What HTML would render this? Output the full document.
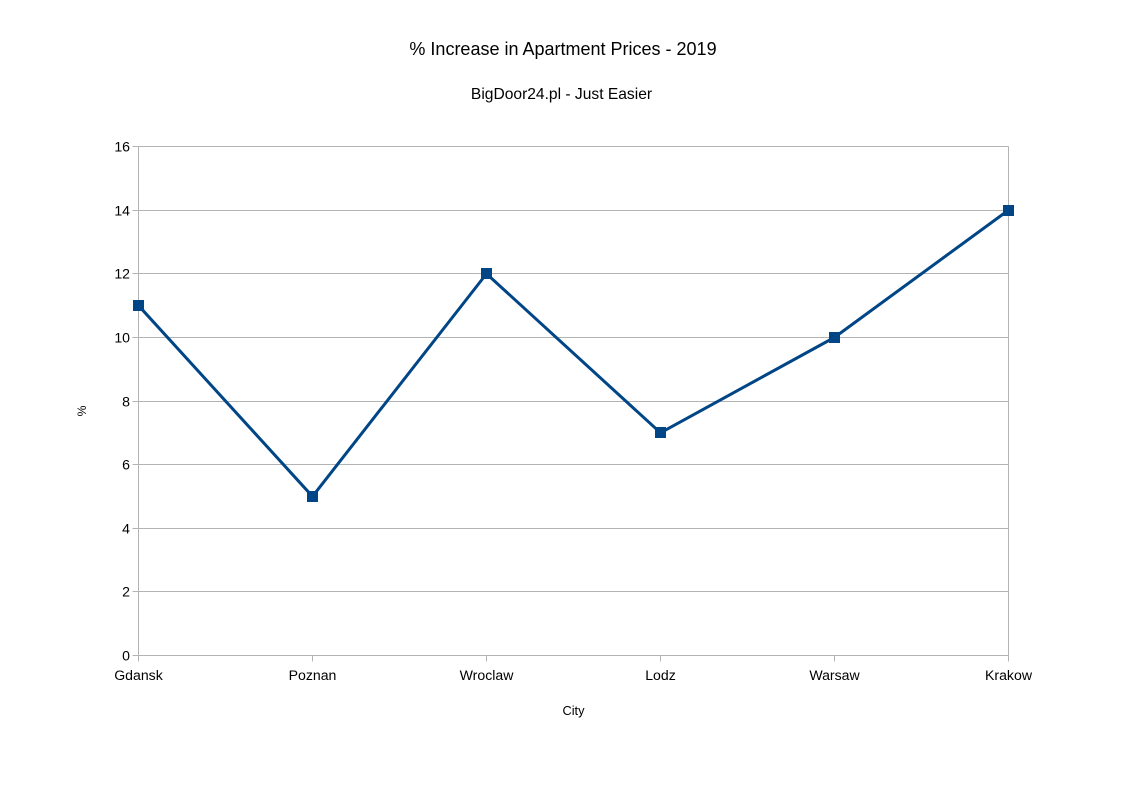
<!DOCTYPE html>
<html lang="en">
<head>
<meta charset="utf-8">
<title>% Increase in Apartment Prices - 2019</title>
<style>
html,body{margin:0;padding:0;background:#fff;width:1123px;height:794px;overflow:hidden}
svg{display:block}
text{font-family:"Liberation Sans",Arial,sans-serif;fill:#000}
</style>
</head>
<body>
<svg id="chart" xmlns="http://www.w3.org/2000/svg" width="1123" height="794" viewBox="0 0 1123 794">
<rect x="0" y="0" width="1123" height="794" fill="#ffffff"/>
<text x="563" y="55" font-size="18" text-anchor="middle">% Increase in Apartment Prices - 2019</text>
<text x="561.5" y="99" font-size="15.6" text-anchor="middle">BigDoor24.pl - Just Easier</text>
<text x="573.5" y="715" font-size="12.8" text-anchor="middle">City</text>
<text transform="translate(86 411) rotate(-90)" font-size="12.2" text-anchor="middle">%</text>
<g id="grid"></g>
<g id="axes"></g>
<g id="series"></g>
</svg>
<script>
const categories = ['Gdansk', 'Poznan', 'Wroclaw', 'Lodz', 'Warsaw', 'Krakow'];
const priceIncrease = [11, 5, 12, 7, 10, 14];
const yTicks = [0, 2, 4, 6, 8, 10, 12, 14, 16];

const NS = 'http://www.w3.org/2000/svg';
const plotLeft = 138.5, plotRight = 1008.5, plotTop = 146.5, plotBottom = 655.5;
const yMax = yTicks[yTicks.length - 1];
const axisColor = '#b3b3b3';
const seriesColor = '#004586';

function xScale(i) {
  return plotLeft + i * (plotRight - plotLeft) / (categories.length - 1);
}
function yScale(v) {
  return plotBottom - v * (plotBottom - plotTop) / yMax;
}
function make(tag, attrs, parent) {
  const el = document.createElementNS(NS, tag);
  Object.keys(attrs).forEach(function (k) { el.setAttribute(k, attrs[k]); });
  parent.appendChild(el);
  return el;
}

const grid = document.getElementById('grid');
const axes = document.getElementById('axes');
const series = document.getElementById('series');

yTicks.forEach(function (t) {
  const y = Math.round(yScale(t) - 0.5) + 0.5;
  const line = make('line', {x1: plotLeft - 6, x2: plotRight, y1: y, y2: y, stroke: axisColor, 'stroke-width': 1}, grid);
  
  
  const label = make('text', {x: 130, y: y + 5, 'font-size': 14.1, 'text-anchor': 'end'}, axes);
  
  
  label.textContent = t;
});

const leftAxis = make('line', {x1: plotLeft, x2: plotLeft, y1: plotTop, y2: plotBottom, stroke: axisColor, 'stroke-width': 1}, axes);


const rightBorder = make('line', {x1: plotRight, x2: plotRight, y1: plotTop, y2: plotBottom, stroke: axisColor, 'stroke-width': 1}, axes);



categories.forEach(function (c, i) {
  const x = Math.round(xScale(i) - 0.5) + 0.5;
  const tick = make('line', {x1: x, x2: x, y1: plotBottom, y2: plotBottom + 6, stroke: axisColor, 'stroke-width': 1}, axes);
  
  
  const label = make('text', {x: x, y: 680, 'font-size': 14.1, 'text-anchor': 'middle'}, axes);
  
  
  label.textContent = c;
});

const pts = priceIncrease.map(function (v, i) { return xScale(i) + ',' + yScale(v); }).join(' ');
const seriesLine = make('polyline', {points: pts, fill: 'none', stroke: seriesColor, 'stroke-width': 3, 'stroke-linejoin': 'round'}, series);



priceIncrease.forEach(function (v, i) {
  const cx = Math.round(xScale(i) - 0.5) + 0.5, cy = Math.round(yScale(v) - 0.5) + 0.5;
  const marker = make('rect', {x: cx - 5.5, y: cy - 5.5, width: 11, height: 11, fill: seriesColor}, series);
  
  
});
</script>
</body>
</html>
